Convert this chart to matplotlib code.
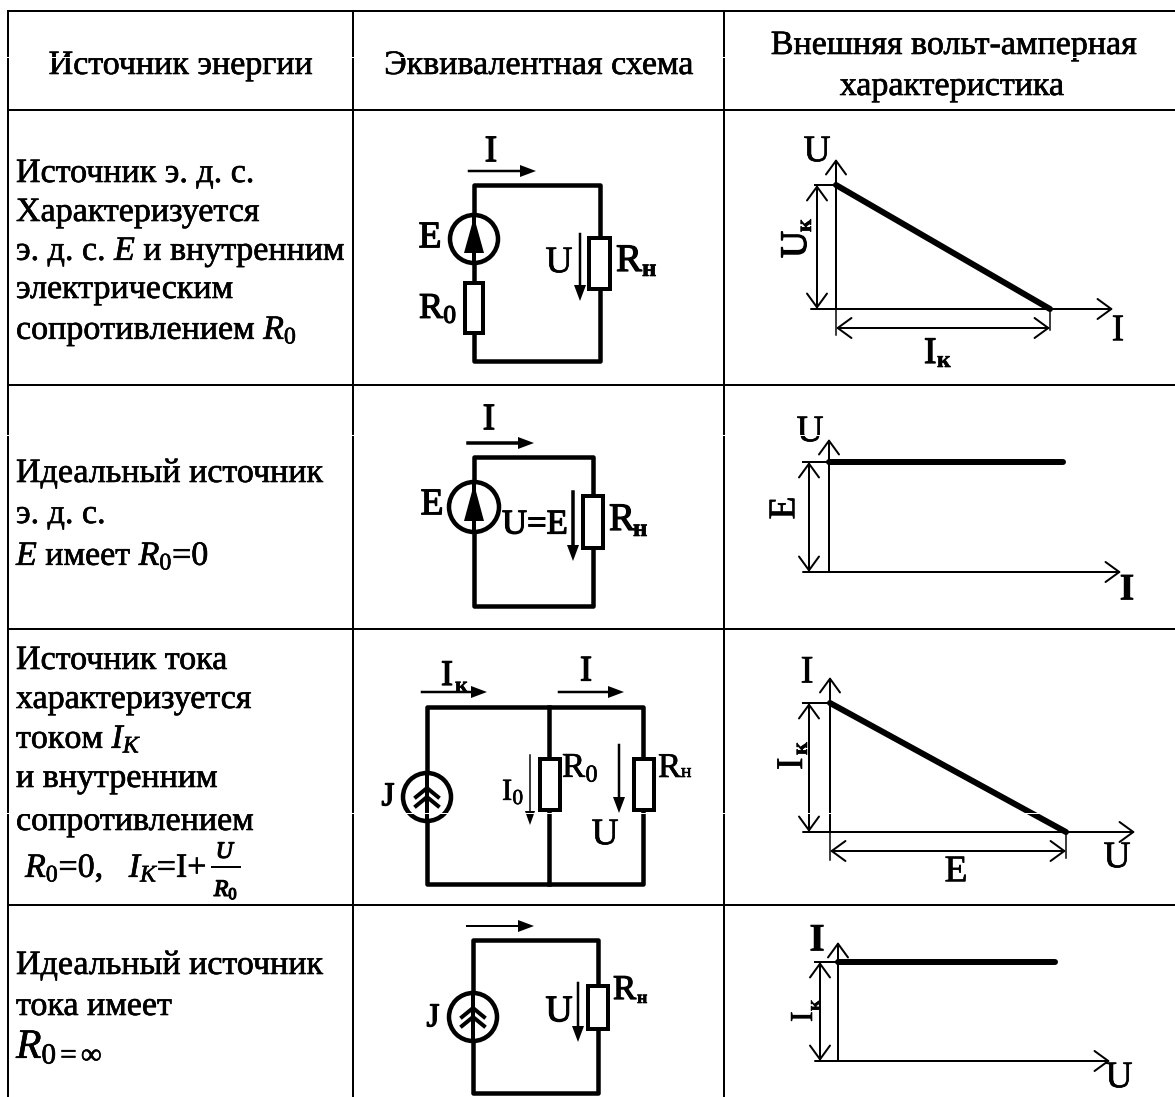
import matplotlib
matplotlib.use('Agg')
import matplotlib.pyplot as plt
import matplotlib.patheffects as pe
from matplotlib.patches import Circle, Rectangle, Polygon

plt.rcParams['font.family'] = ['Liberation Serif', 'DejaVu Serif']
plt.rcParams['mathtext.fontset'] = 'custom'
plt.rcParams['mathtext.rm'] = 'Liberation Serif'
plt.rcParams['mathtext.it'] = 'Liberation Serif:italic'
plt.rcParams['mathtext.bf'] = 'Liberation Serif:bold'

FS = 24.5
PX = 0.72       # linewidth in points for one pixel at dpi 100

# table text
HEADERS = ['Источник энергии', 'Эквивалентная схема', 'Внешняя вольт-амперная', 'характеристика']
ROW1 = ['Источник э. д. с.', 'Характеризуется', r'э. д. с. $\mathit{E}$ и внутренним', 'электрическим',
        r'сопротивлением $\mathit{R}_0$']
ROW2 = ['Идеальный источник', 'э. д. с.', r'$\mathit{E}$ имеет $\mathit{R}_0$=0']
ROW3 = ['Источник тока', 'характеризуется', r'током $\mathit{I}_{\mathit{K}}$', 'и внутренним', 'сопротивлением']
ROW3_FORMULA = r'$\mathit{R}_0$=0,   $\mathit{I}_{\mathit{K}}$=I+'
ROW4 = ['Идеальный источник', 'тока имеет']
ROW4_LAST = r'$\mathit{R}_{0{=}\infty}$'

# table grid
ROW_LINES = [11, 110, 385, 629, 905]
COL_LINES = [8, 353, 724]
SCAN_GAPS = [57, 435, 813]

ROW1_BASE = [182, 221, 260, 298, 339]
ROW2_BASE = [482, 523, 565]
ROW3_BASE = [669, 708, 748, 787, 830]
ROW4_BASE = [974, 1015]

# volt-ampere characteristics: origin, axis ends, line from/to
CHART1 = {'origin': (836, 309), 'top': 159, 'left': 811, 'right': 1113, 'line': [(836, 185), (1050, 309)]}
CHART2 = {'origin': (829, 572), 'top': 439, 'left': 803, 'right': 1121, 'line': [(829, 462), (1063, 462)]}
CHART3 = {'origin': (830, 832), 'top': 677, 'left': 803, 'right': 1135, 'line': [(830, 703), (1066, 832)]}
CHART4 = {'origin': (838, 1061), 'top': 942, 'left': 815, 'right': 1110, 'line': [(838, 962), (1055, 962)]}

fig = plt.figure(figsize=(11.75, 10.97), dpi=100)
ax = fig.add_axes([0, 0, 1, 1])
ax.set_xlim(0, 1175)
ax.set_ylim(1097, 0)
ax.axis('off')

BOLDER = [pe.withStroke(linewidth=0.45, foreground='black')]
HEAVY = [pe.withStroke(linewidth=0.9, foreground='black')]


def line(xs, ys, w=4.5, z=3):
    ax.plot(xs, ys, color='black', lw=w * PX, solid_capstyle='projecting', solid_joinstyle='round', zorder=z)


def txt(x, y, s, size=FS, heavy=False, **kw):
    kw.setdefault('ha', 'left')
    kw.setdefault('va', 'baseline')
    t = ax.text(x, y, s, fontsize=size, color='black', zorder=6, **kw)
    t.set_path_effects(HEAVY if heavy else BOLDER)


def lab(x, y, s, size=25, **kw):
    txt(x, y, s, size=size, ha='center', va='center', **kw)


def arrow(x0, y0, x1, y1, w=2.5, head=16, half=6):
    # thin line with a filled head
    if x0 == x1:
        d = 1 if y1 > y0 else -1
        line([x0, x0], [y0, y1 - d * head], w, 5)
        ax.add_patch(Polygon([(x1, y1), (x1 - half, y1 - d * head), (x1 + half, y1 - d * head)],
                             fc='black', ec='none', zorder=5))
    else:
        d = 1 if x1 > x0 else -1
        line([x0, x1 - d * head], [y0, y0], w, 5)
        ax.add_patch(Polygon([(x1, y1), (x1 - d * head, y1 - half), (x1 - d * head, y1 + half)],
                             fc='black', ec='none', zorder=5))


def resistor(x0, y0, x1, y1):
    ax.add_patch(Rectangle((x0, y0), x1 - x0, y1 - y0, fc='white', ec='black', lw=4 * PX, zorder=4))


def source(x, y, r, double=False):
    ax.add_patch(Circle((x, y), r, fc='white', ec='black', lw=4.5 * PX, zorder=4))
    line([x, x], [y - r, y + r], 4, 5)
    if double:
        for dy in [-9, 0]:
            ax.plot([x - 11, x, x + 11], [y + dy + 9, y + dy, y + dy + 9], color='black',
                    lw=4 * PX, solid_joinstyle='miter', zorder=5)
    else:
        ax.add_patch(Polygon([(x, y - r + 2), (x - 10, y + 14), (x + 10, y + 14)], fc='black', ec='none', zorder=5))


def open_arrow(x0, y0, x1, y1, style='->', w=2):
    ax.annotate('', xy=(x1, y1), xytext=(x0, y0),
                arrowprops=dict(arrowstyle=style + ',head_length=0.55,head_width=0.4', color='black', lw=w * PX,
                                shrinkA=0, shrinkB=0, mutation_scale=18), zorder=5)


def chart(c):
    ox, oy = c['origin']
    open_arrow(ox, oy, ox, c['top'])
    open_arrow(c['left'], oy, c['right'], oy)
    (x0, y0), (x1, y1) = c['line']
    ax.plot([x0, x1], [y0, y1], color='black', lw=6 * PX, solid_capstyle='round', zorder=6)


def load_label(x, y, sub_x, sub_y, size=28, sub_size=18, weight='bold'):
    txt(x, y, 'R', size=size, heavy=True)
    txt(sub_x, sub_y, 'н', size=sub_size, fontweight=weight)


# grid
for y in ROW_LINES:
    ax.plot([COL_LINES[0], 1175], [y, y], color='black', lw=2 * PX, zorder=1)
for x in COL_LINES:
    ax.plot([x, x], [ROW_LINES[0], 1097], color='black', lw=2 * PX, zorder=1)

# header
txt(181, 74, HEADERS[0], ha='center')
txt(539, 74, HEADERS[1], ha='center')
txt(954, 54, HEADERS[2], ha='center')
txt(952, 95, HEADERS[3], ha='center')

# first column
for s, y in zip(ROW1, ROW1_BASE):
    txt(16, y, s)
for s, y in zip(ROW2, ROW2_BASE):
    txt(16, y, s)
for s, y in zip(ROW3, ROW3_BASE):
    txt(16, y, s)
txt(25, 877, ROW3_FORMULA)
ax.plot([212, 240], [867, 867], color='black', lw=2 * PX, zorder=6)
txt(226, 858, r'$\mathit{U}$', size=17, ha='center', heavy=True)
txt(226, 896, r'$\mathit{R}_0$', size=17, ha='center', heavy=True)
for s, y in zip(ROW4, ROW4_BASE):
    txt(16, y, s)
txt(16, 1058, ROW4_LAST, size=30)

# circuit 1
line([474, 474, 600, 600, 474, 474], [239, 185, 185, 361, 361, 239])
source(474, 239, 24)
resistor(465, 283, 483, 333)
resistor(589, 238, 610, 289)
arrow(469, 171, 536, 171)
arrow(580, 234, 580, 301)
lab(491, 152, 'I', size=27, heavy=True)
lab(430, 238, 'E', size=27, heavy=True)
txt(419, 318, 'R$_0$', size=26, heavy=True)
lab(559, 263, 'U', size=27)
load_label(616, 271, 642, 276)

# circuit 2
line([474, 474, 593, 593, 474, 474], [507, 457, 457, 606, 606, 507])
source(474, 507, 25)
resistor(583, 496, 603, 548)
arrow(468, 443, 534, 443, w=3.5)
arrow(573, 492, 573, 561, w=3.5)
lab(489, 420, 'I', size=27, heavy=True)
lab(432, 505, 'E', size=27, heavy=True)
lab(535, 525, 'U=E', size=25, heavy=True)
load_label(609, 530, 633, 536)

# circuit 3
line([427, 427, 643, 643, 427, 427], [797, 707, 707, 884, 884, 797])
line([549, 549], [707, 884])
source(427, 797, 24, double=True)
resistor(540, 759, 560, 810)
resistor(634, 759, 654, 810)
arrow(422, 692, 487, 692)
arrow(559, 692, 624, 692)
arrow(530, 755, 530, 825, w=1.5, half=5, head=14)
arrow(619, 745, 619, 813)
txt(441, 685, 'I', size=26, heavy=True)
txt(455, 692, 'к', size=16, fontweight='bold')
lab(586, 672, 'I', size=26, heavy=True)
txt(562, 777, 'R$_0$', size=25)
txt(658, 777, 'R', size=25)
txt(681, 777, 'н', size=14)
lab(388, 797, 'J', size=24, heavy=True)
txt(502, 800, 'I$_0$', size=22)
lab(605, 835, 'U', size=27)

# circuit 4
line([473, 473, 598, 598, 473, 473], [1017, 940, 940, 1093, 1093, 1017])
source(473, 1017, 24, double=True)
resistor(588, 986, 608, 1029)
arrow(467, 926, 534, 926, w=2)
arrow(578, 983, 578, 1042)
lab(559, 1012, 'U', size=27, heavy=True)
lab(433, 1018, 'J', size=24, heavy=True)
load_label(613, 999, 637, 1003, size=25, sub_size=13)

# characteristics
chart(CHART1)
line([815, 836], [185, 185], 2)
open_arrow(817, 185, 817, 309, '<->')
line([1050, 1050], [309, 330], 1.5)
line([836, 836], [309, 335], 1.5)
open_arrow(836, 328, 1050, 328, '<->')
lab(817, 152, 'U', size=27)
lab(1118, 331, 'I', size=27)
txt(924, 363, 'I', size=27, heavy=True)
txt(937, 367, 'к', size=17, fontweight='bold')
txt(806, 258, 'U', size=27, rotation=90, rotation_mode='anchor', heavy=True)
txt(811, 232, 'к', size=16, rotation=90, rotation_mode='anchor', fontweight='bold')

chart(CHART2)
line([803, 829], [462, 462], 2)
open_arrow(809, 462, 809, 572, '<->')
lab(810, 432, 'U', size=27)
lab(785, 508, 'E', size=27, rotation=90)
lab(1127, 590, 'I', size=27, fontweight='bold')

chart(CHART3)
line([803, 830], [703, 703], 2)
open_arrow(809, 703, 809, 832, '<->')
line([1066, 1066], [832, 858], 1.5)
line([830, 830], [832, 860], 1.5)
open_arrow(830, 851, 1066, 851, '<->')
lab(807, 673, 'I', size=28)
txt(802, 770, 'I', size=27, rotation=90, rotation_mode='anchor')
txt(807, 755, 'к', size=16, rotation=90, rotation_mode='anchor', fontweight='bold')
lab(956, 872, 'E', size=27)
lab(1117, 858, 'U', size=27)

chart(CHART4)
line([815, 838], [962, 962], 2)
open_arrow(820, 962, 820, 1061, '<->')
lab(817, 941, 'I', size=28, fontweight='bold')
txt(812, 1022, 'I', size=23, rotation=90, rotation_mode='anchor')
txt(820, 1011, 'к', size=14, rotation=90, rotation_mode='anchor', fontweight='bold')
lab(1119, 1078, 'U', size=27)

# white scan streaks running across the page
for y in SCAN_GAPS:
    ax.plot([0, 1175], [y, y], color='white', lw=1 * PX, zorder=10)

fig.savefig('out.png', dpi=100)
